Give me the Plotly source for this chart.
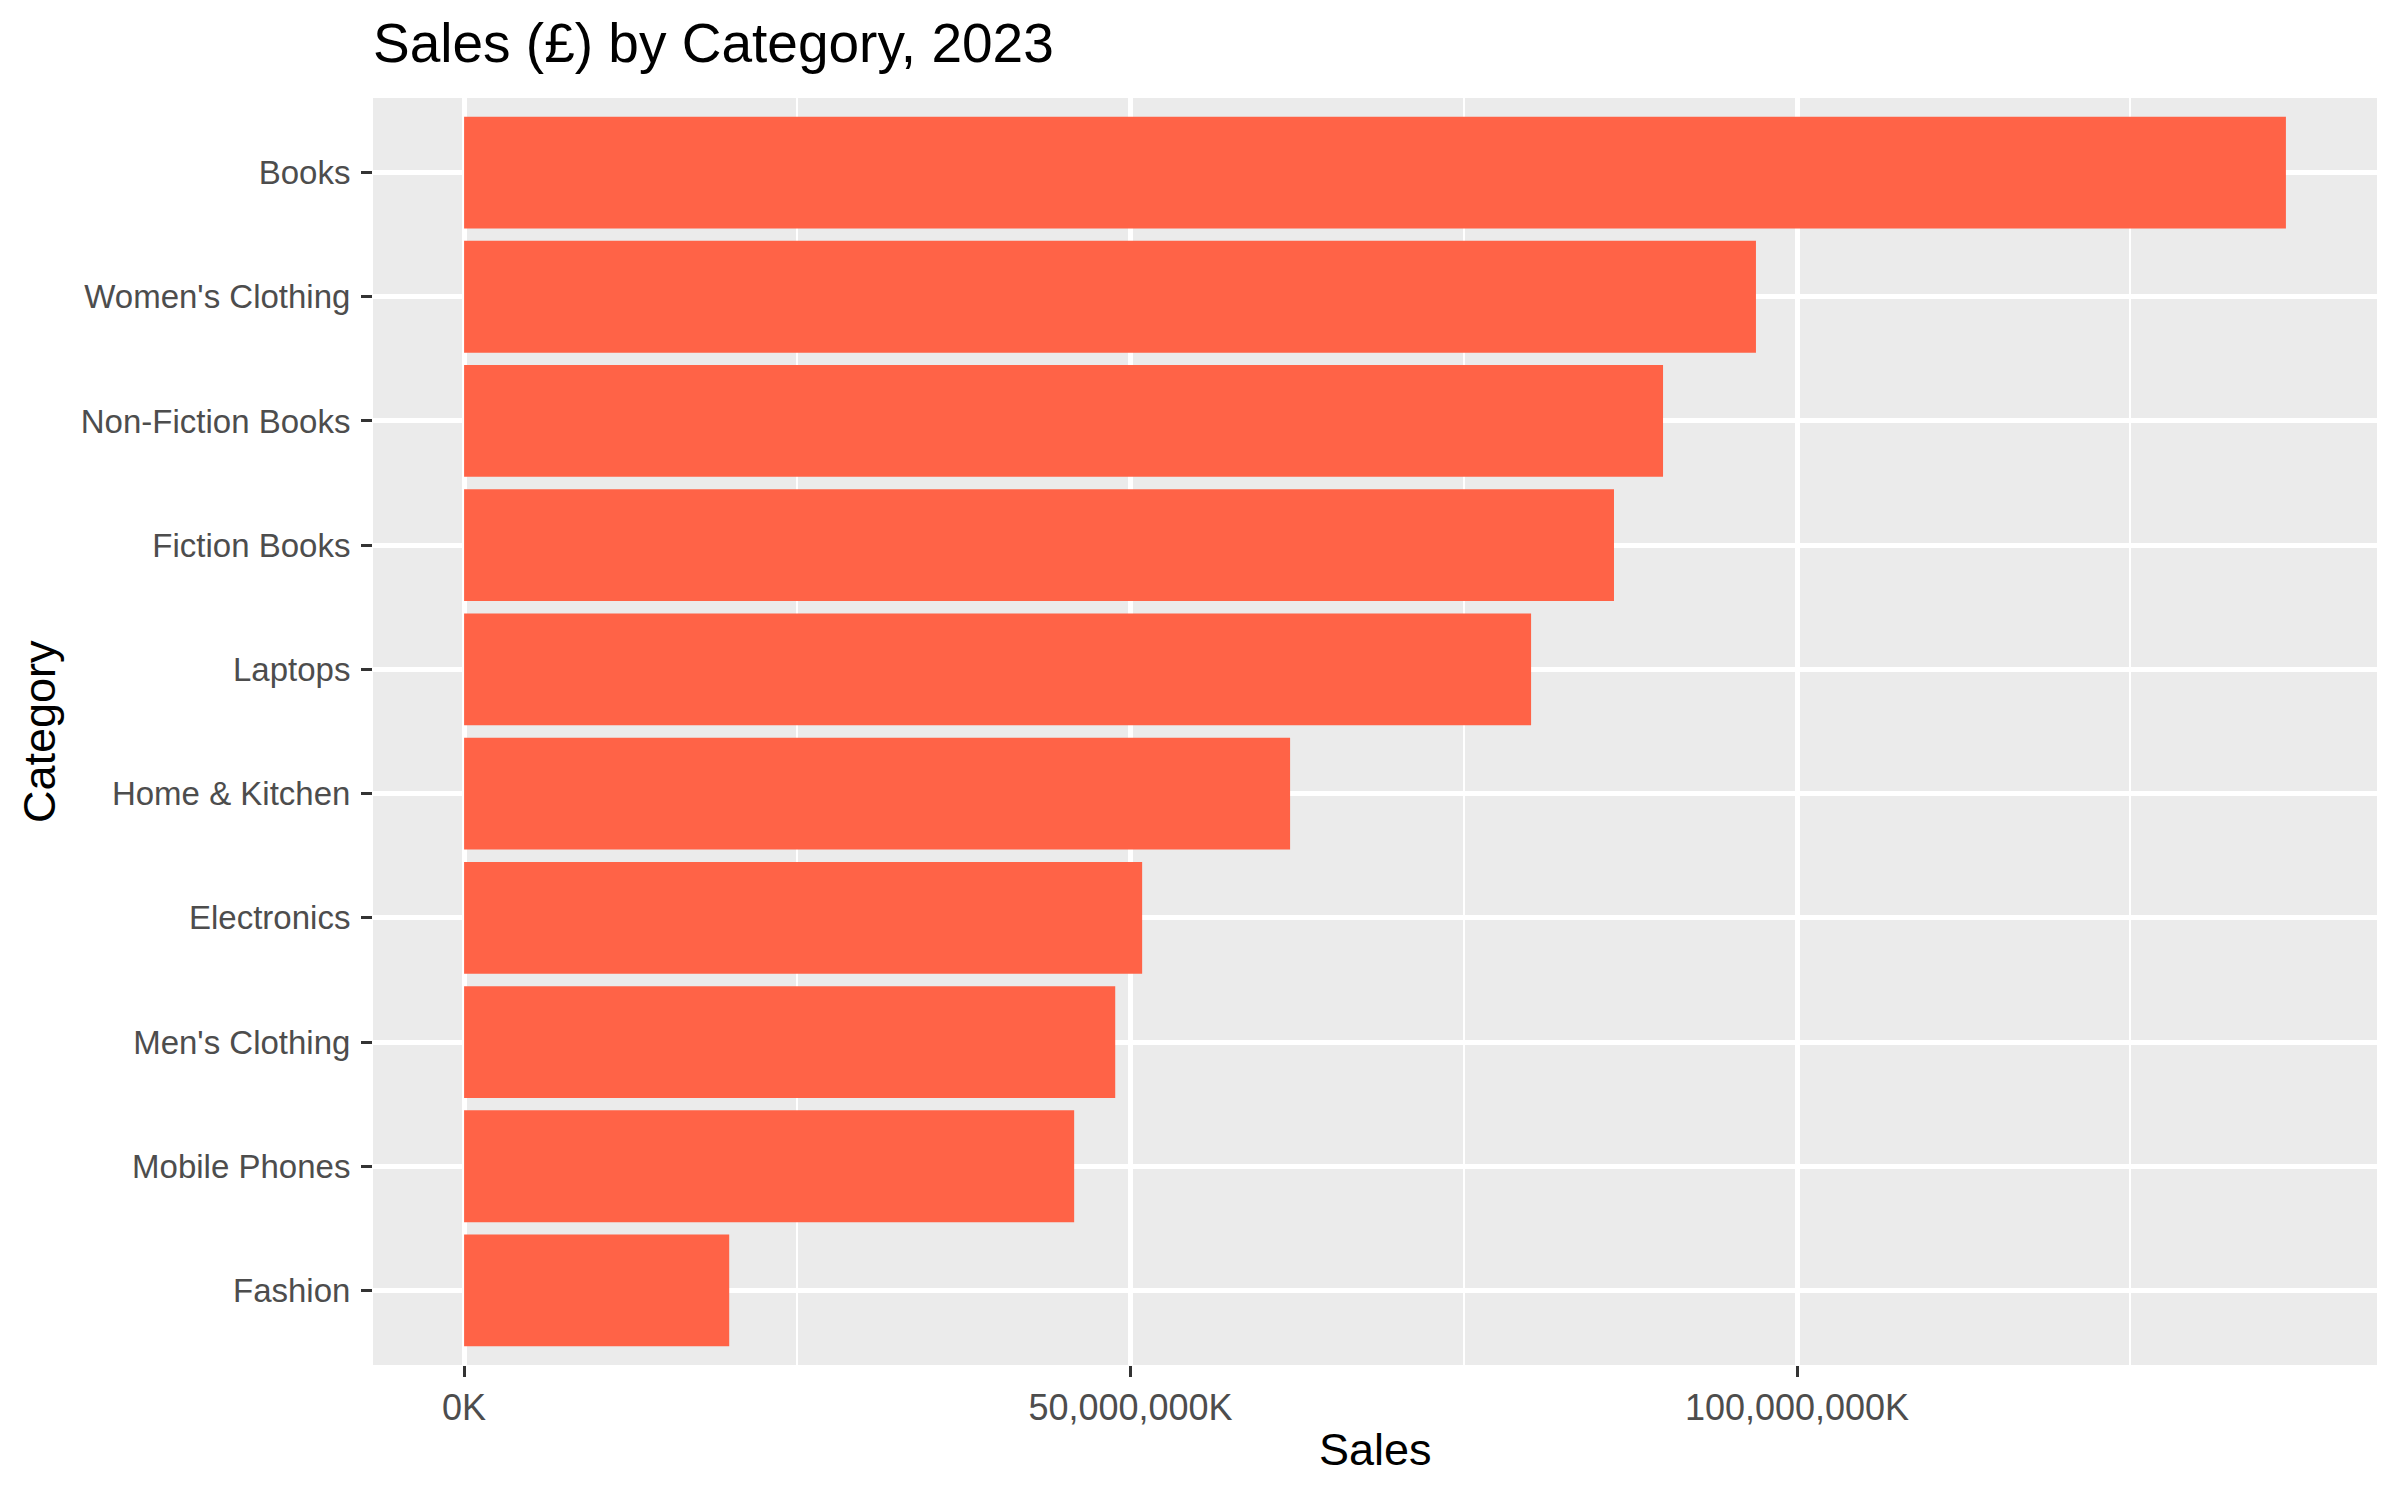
import plotly.graph_objects as go

# Data (top to bottom in the chart)
categories = ["Books", "Women's Clothing", "Non-Fiction Books", "Fiction Books",
              "Laptops", "Home & Kitchen", "Electronics", "Men's Clothing",
              "Mobile Phones", "Fashion"]
sales = [136_680_000, 96_920_000, 89_950_000, 86_270_000, 80_050_000,
         61_970_000, 50_870_000, 48_850_000, 45_770_000, 19_890_000]
x_tick_vals = [0, 50_000_000, 100_000_000]
x_tick_text = ["0K", "50,000,000K", "100,000,000K"]
x_minor_vals = [25_000_000, 75_000_000, 125_000_000]

FONT = "Liberation Sans, Arial, Helvetica, sans-serif"
BAR = "#FF6347"
PANEL = "#EBEBEB"
L, R, T, B = 373, 23, 98, 135

# plot bottom-to-top so Books is on top
cats_bt = categories[::-1]
sales_bt = sales[::-1]

fig = go.Figure(go.Bar(
    y=cats_bt, x=sales_bt, orientation="h",
    marker=dict(color=BAR, line=dict(width=0)),
    width=0.9,
))

xmax = max(sales)
pad = 0.05 * xmax

fig.update_layout(
    width=2400, height=1500,
    margin=dict(l=L, r=R, t=T, b=B),
    paper_bgcolor="white",
    plot_bgcolor=PANEL,
    showlegend=False,
    font=dict(family=FONT, color="#4D4D4D", size=36),
    title=dict(text="Sales (£) by Category, 2023",
               font=dict(family=FONT, size=55, color="black"),
               x=373 / 2400, xref="container", xanchor="left",
               y=1 - 62 / 1500, yref="container", yanchor="bottom"),
    bargap=0.1,
    annotations=[
        dict(text="Category", textangle=-90, showarrow=False,
             xref="paper", yref="paper", x=0, y=0.5,
             xanchor="left", yanchor="middle", xshift=12 - L,
             font=dict(family=FONT, size=45, color="black")),
        dict(text="Sales", showarrow=False,
             xref="paper", yref="paper", x=0.5, y=0,
             xanchor="center", yanchor="top", yshift=-57,
             font=dict(family=FONT, size=45, color="black")),
    ],
)

fig.update_xaxes(
    range=[-pad, xmax + pad],
    tickmode="array", tickvals=x_tick_vals, ticktext=x_tick_text,
    showgrid=True, gridcolor="white", gridwidth=4.5,
    zeroline=False, showline=False,
    ticks="outside", ticklen=11, tickwidth=3, tickcolor="#333333",
    tickfont=dict(family=FONT, size=36, color="#4D4D4D"),
    minor=dict(tickmode="array", tickvals=x_minor_vals, showgrid=True,
               gridcolor="white", gridwidth=2.3, ticks=""),
)

fig.update_yaxes(
    categoryorder="array", categoryarray=cats_bt,
    range=[-0.6, len(categories) - 0.4],
    showgrid=True, gridcolor="white", gridwidth=4.5,
    zeroline=False, showline=False,
    ticks="outside", ticklen=11, tickwidth=3, tickcolor="#333333",
    tickfont=dict(family=FONT, size=33, color="#4D4D4D"),
    ticklabelstandoff=4,
)

fig.write_html("out.html", config={"displayModeBar": False},
               post_script="document.body.style.margin='0';document.body.style.overflow='hidden';")
